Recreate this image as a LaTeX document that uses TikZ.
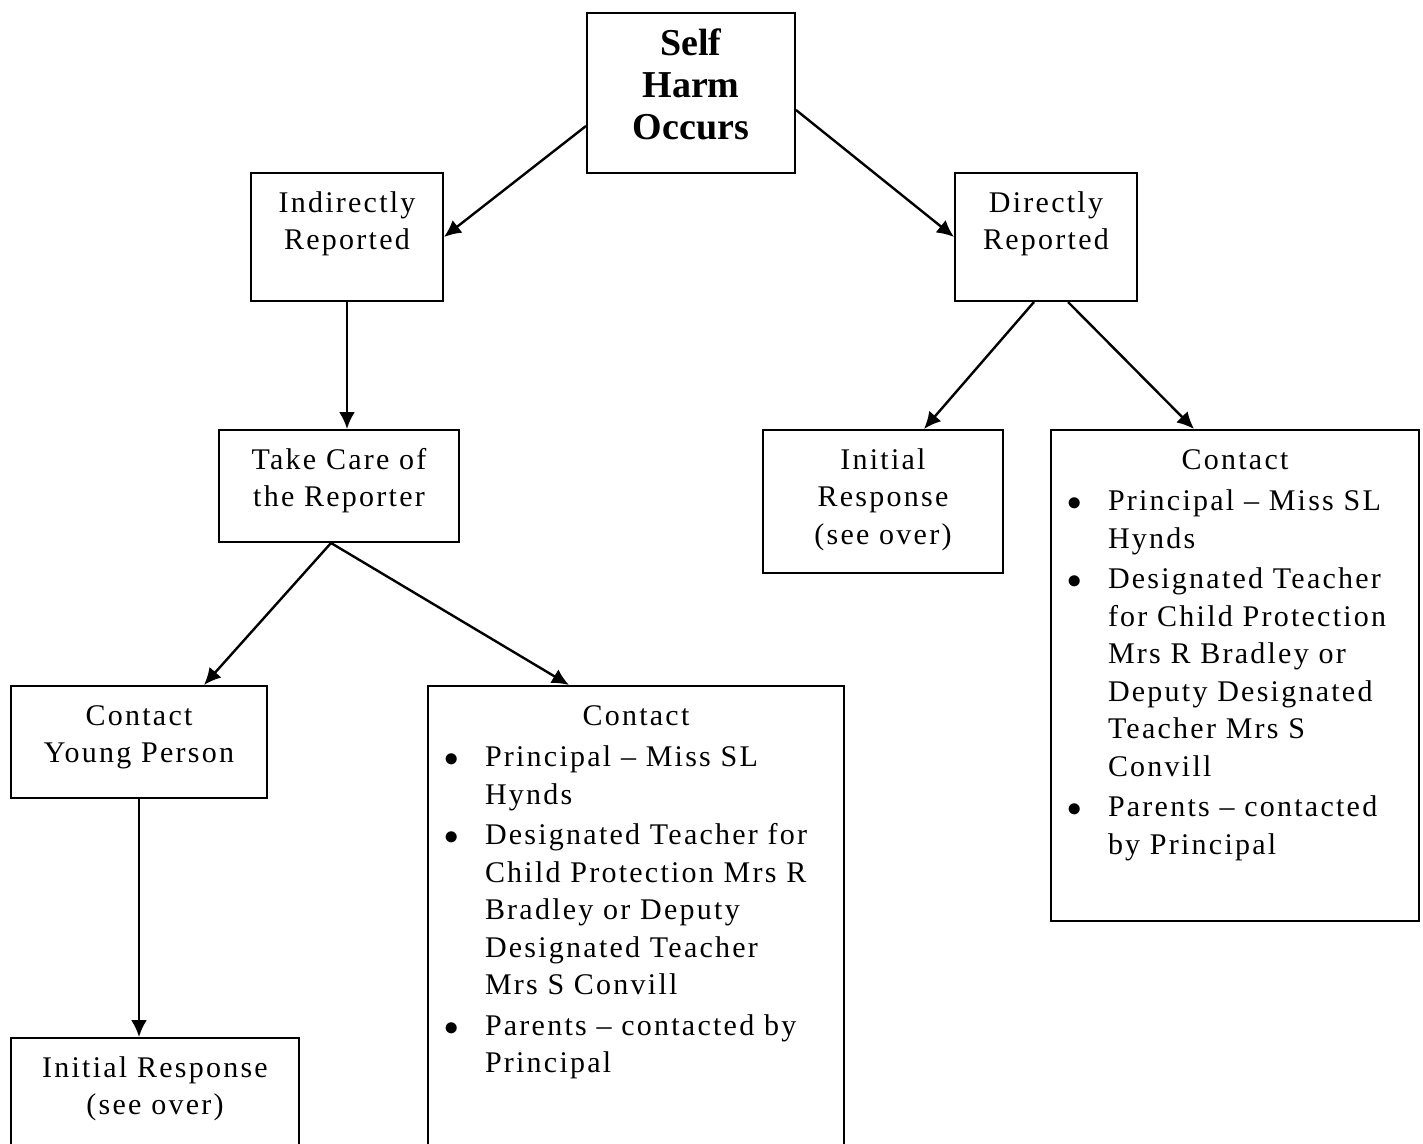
\documentclass[tikz,border=0pt]{standalone}
\usepackage{fontspec}
\setmainfont{Liberation Serif}[LetterSpace=7.5, BoldFeatures={LetterSpace=0}]
\usetikzlibrary{arrows.meta}

% top aligned box content: width, height, text
\newcommand{\boxtext}[3]{\begin{minipage}[t][#2][t]{#1}\centering\vspace*{6.5pt}\strut #3\end{minipage}}
% bullet list used in the contact boxes
\newenvironment{contactitems}{\raggedright
  \begin{list}{$\bullet$}{\setlength{\leftmargin}{28.5pt}\setlength{\labelwidth}{17pt}%
    \setlength{\labelsep}{13pt}\setlength{\itemsep}{1.5pt}\setlength{\parsep}{0pt}%
    \setlength{\topsep}{2pt}\setlength{\partopsep}{0pt}\setlength{\rightmargin}{0pt}}}
  {\end{list}}

\begin{document}
\begin{tikzpicture}[x=0.5pt, y=-0.5pt, >={Latex[length=8.5pt,width=8pt]}]
        % Styles
        \tikzstyle{box}=[rectangle, draw, line width=1pt, inner sep=0pt, anchor=north west, font=\fontsize{15}{18.75}\selectfont]
        \tikzstyle{title}=[box, font=\fontsize{19}{21}\selectfont\bfseries]
        \tikzstyle{link}=[->, line width=1.2pt]

        \useasboundingbox (0,0) rectangle (1423,1144);

        % Nodes
        \node[title] (harm)  at (586,12)   {\boxtext{104pt}{80pt}{Self\\Harm\\Occurs}};
        \node[box]   (indir) at (250,172)  {\boxtext{96pt}{64pt}{Indirectly\\Reported}};
        \node[box]   (dir)   at (954,172)  {\boxtext{91pt}{64pt}{Directly\\Reported}};
        \node[box]   (care)  at (218,429)  {\boxtext{120pt}{56pt}{Take Care of\\the Reporter}};
        \node[box]   (initR) at (762,429)  {\boxtext{120pt}{71.5pt}{Initial\\Response\\(see over)}};
        \node[box]   (contR) at (1050,429) {\boxtext{184pt}{245.5pt}{Contact\par
            \begin{contactitems}
            \item Principal -- Miss SL\\Hynds
            \item Designated Teacher\\for Child Protection\\Mrs R Bradley or\\Deputy Designated\\Teacher Mrs S\\Convill
            \item Parents -- contacted\\by Principal
            \end{contactitems}}};
        \node[box]   (cyp)   at (10,685)   {\boxtext{128pt}{56pt}{Contact\\Young Person}};
        \node[box]   (contM) at (427,685)  {\boxtext{208pt}{240pt}{Contact\par
            \begin{contactitems}
            \item Principal -- Miss SL\\Hynds
            \item Designated Teacher for\\Child Protection Mrs R\\Bradley or Deputy\\Designated Teacher\\Mrs S Convill
            \item Parents -- contacted by\\Principal
            \end{contactitems}}};
        \node[box]   (initL) at (10,1037)  {\boxtext{144pt}{60pt}{Initial Response\\(see over)}};

        % Arrows
        \draw[link] ([yshift=-16.5pt]harm.west) -- (indir.east);
        \draw[link] ([yshift=-8.5pt]harm.east) -- (dir.west);
        \draw[link] (indir.south) -- (indir.south |- care.north);
        \draw[link] ([xshift=-6pt]dir.south) -- ([xshift=20.5pt]initR.north);
        \draw[link] ([xshift=11pt]dir.south) -- ([xshift=-20.5pt]contR.north);
        \draw[link] ([xshift=-4pt]care.south) -- ([xshift=32.5pt]cyp.north);
        \draw[link] ([xshift=-4pt]care.south) -- ([xshift=-33.5pt]contM.north);
        \draw[link] (cyp.south) -- (cyp.south |- initL.north);
    \end{tikzpicture}
\end{document}
